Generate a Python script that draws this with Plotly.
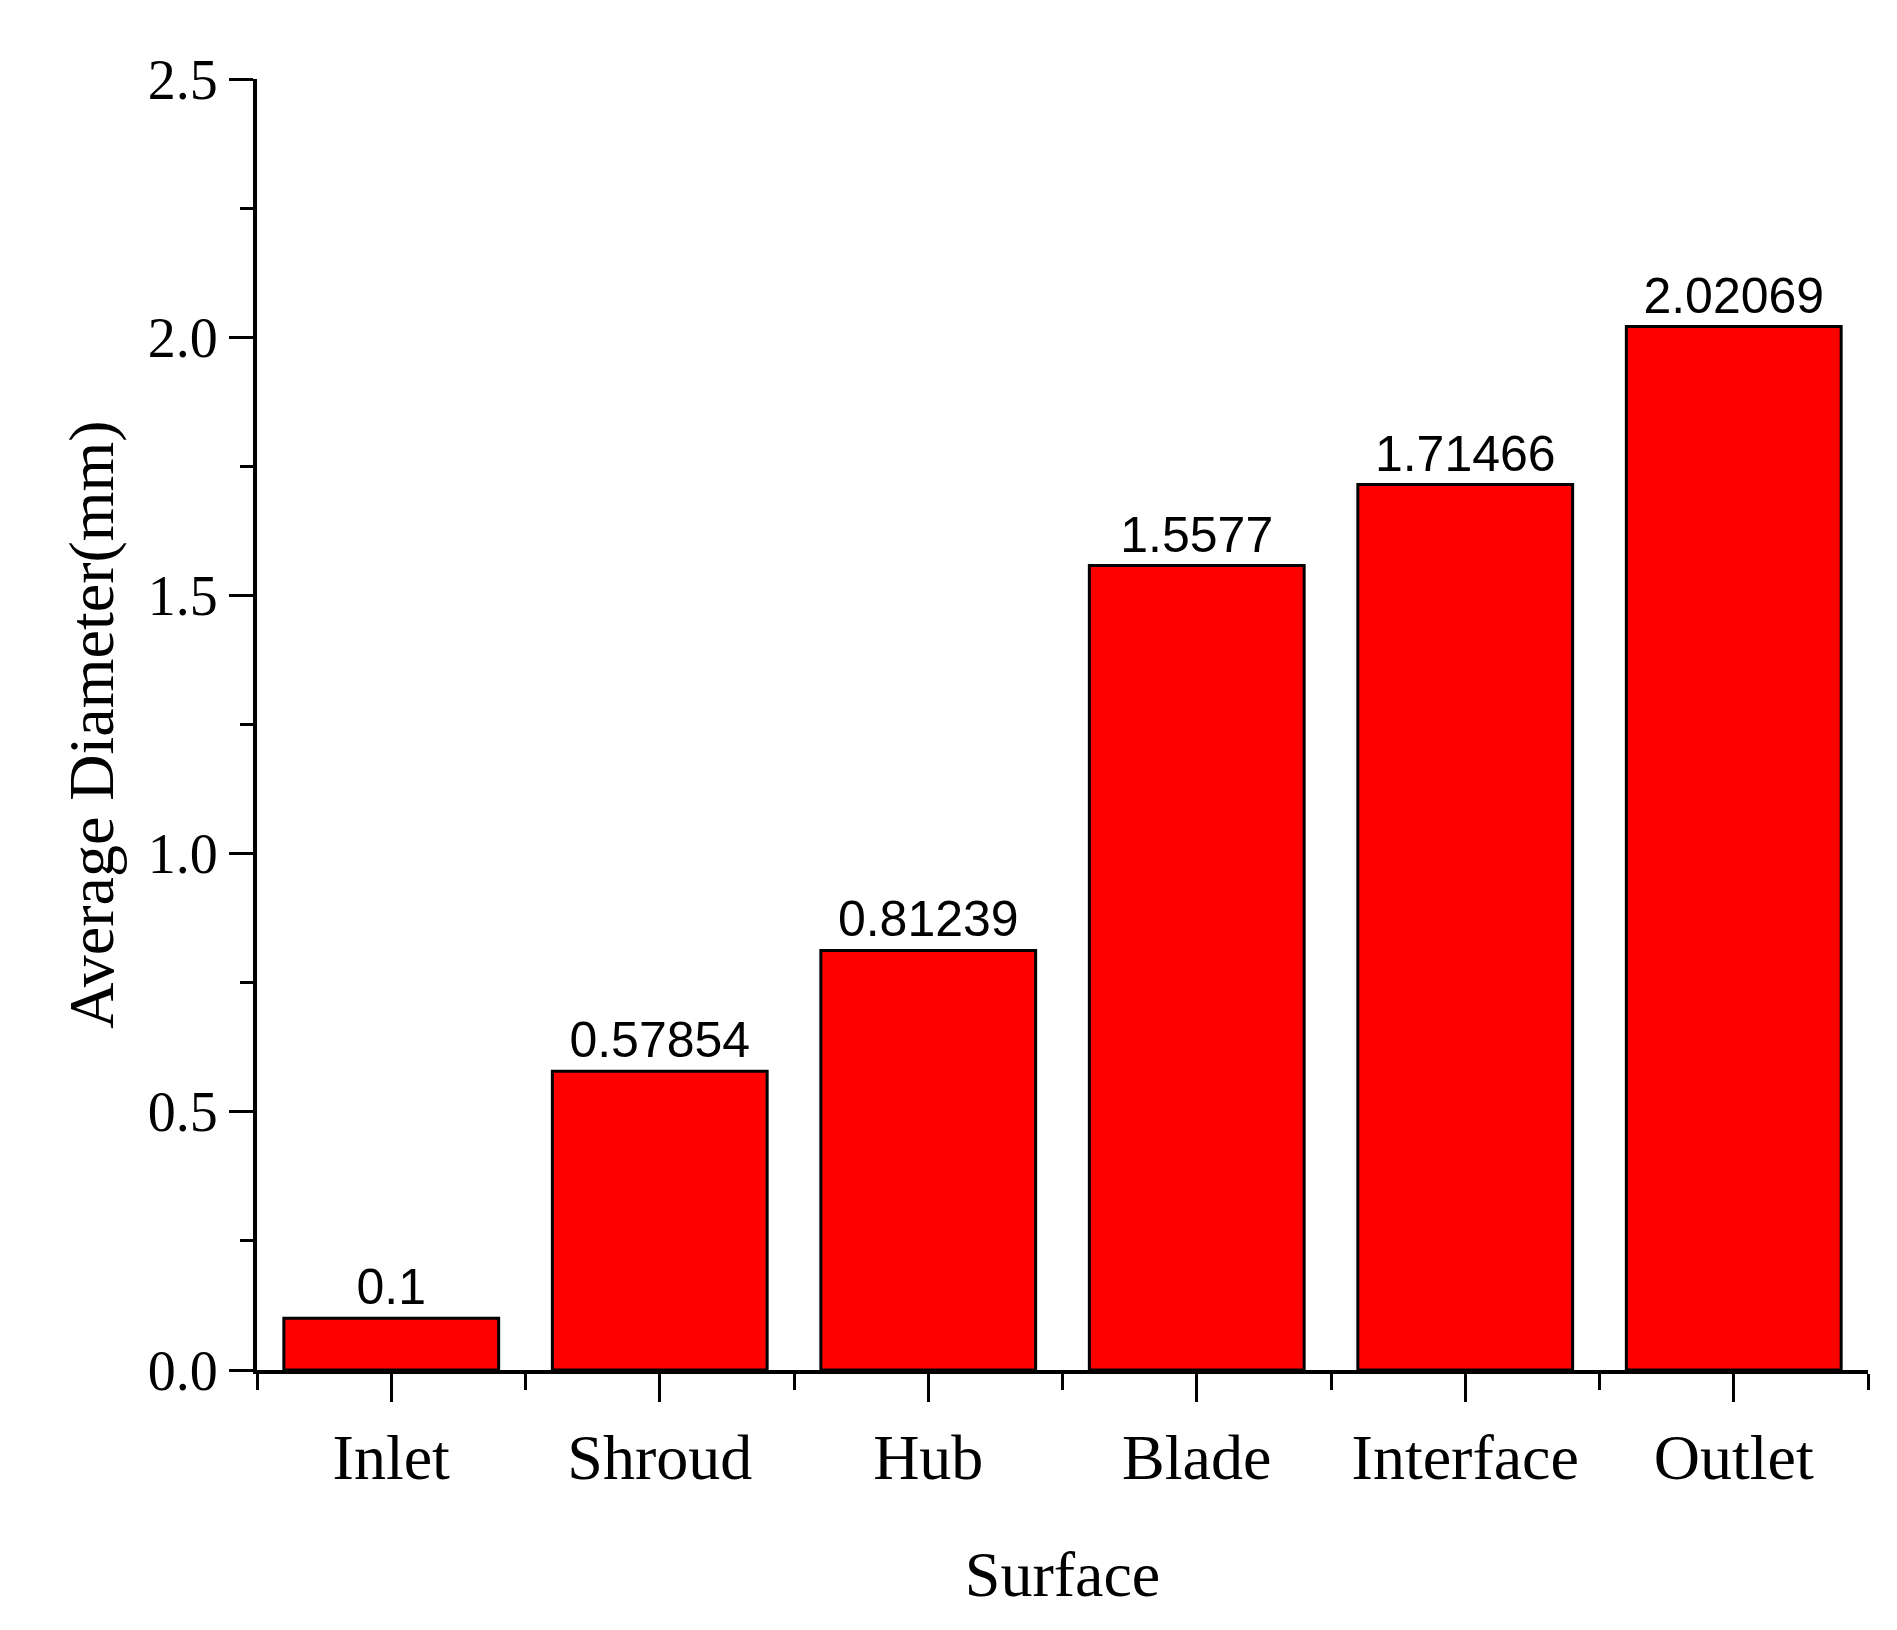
import plotly.graph_objects as go

categories = ["Inlet", "Shroud", "Hub", "Blade", "Interface", "Outlet"]
values = [0.1, 0.57854, 0.81239, 1.5577, 1.71466, 2.02069]
labels = ["0.1", "0.57854", "0.81239", "1.5577", "1.71466", "2.02069"]

serif = "Liberation Serif"
fig = go.Figure(go.Bar(
    x=list(range(len(categories))), y=values, text=labels, textposition="outside",
    textfont=dict(family="Liberation Sans", size=50, color="black"),
    marker=dict(color="#ff0000", line=dict(color="black", width=3)),
    width=0.8, cliponaxis=False))

fig.update_layout(
    width=1897, height=1630, plot_bgcolor="white", paper_bgcolor="white",
    margin=dict(l=249, r=37, t=71, b=268), showlegend=False,
    font=dict(family=serif, color="black"),
    xaxis=dict(range=[-0.5, 5.5], tickmode="array", tickvals=list(range(6)), ticktext=categories,
               showline=True, linecolor="black", linewidth=4, ticks="outside", ticklen=28,
               tickwidth=3, tickcolor="black", tickfont=dict(size=64, family=serif),
               minor=dict(tickmode="array", tickvals=[-0.5, 0.5, 1.5, 2.5, 3.5, 4.5, 5.5],
                          ticks="outside", ticklen=16, tickwidth=3, tickcolor="black"),
               title=dict(text="Surface", font=dict(size=64, family=serif), standoff=60),
               showgrid=False, zeroline=False),
    yaxis=dict(range=[0, 2.5], tickmode="array", tickvals=[0, 0.5, 1, 1.5, 2, 2.5],
               ticktext=["0.0", "0.5", "1.0", "1.5", "2.0", "2.5"],
               showline=True, linecolor="black", linewidth=4, ticks="outside", ticklen=24,
               tickwidth=3, tickcolor="black", tickfont=dict(size=56, family=serif),
               minor=dict(tickmode="array", tickvals=[0.25, 0.75, 1.25, 1.75, 2.25],
                          ticks="outside", ticklen=13, tickwidth=3, tickcolor="black"),
               title=dict(text="Average Diameter(mm)", font=dict(size=64, family=serif), standoff=14),
               showgrid=False, zeroline=False),
)
fig.write_html("out.html")
